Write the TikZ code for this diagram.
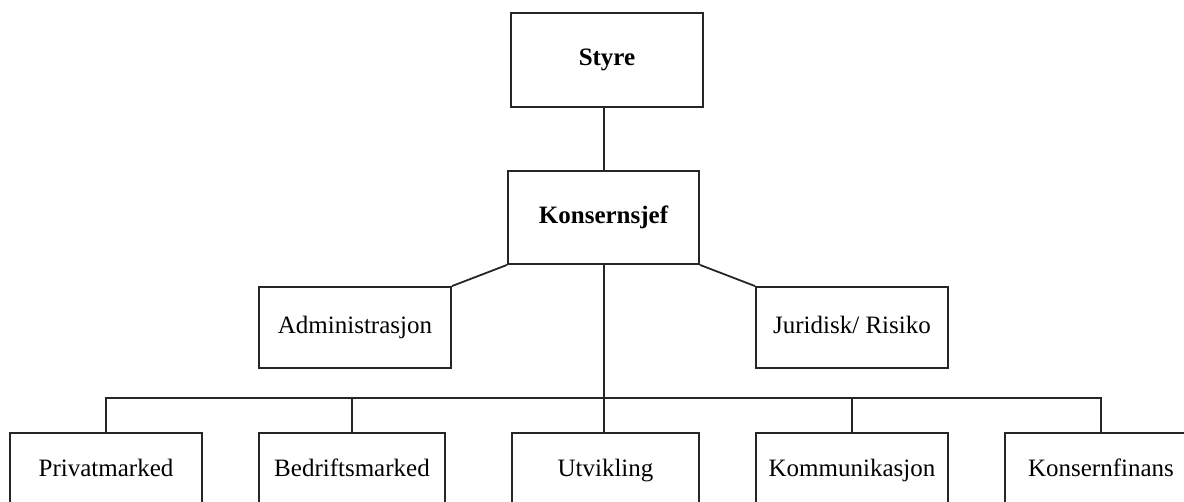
\documentclass[tikz,border=0pt]{standalone}
\usepackage{fontspec}
\setmainfont{Liberation Serif}
\begin{document}
\begin{tikzpicture}[x=0.5pt,y=-0.5pt,
  box/.style={draw=black!85, line width=0.9pt, rectangle, inner sep=0pt, text height=8.5pt, text depth=2.6pt, minimum width=96pt, font=\fontsize{12.5}{15}\selectfont},
  link/.style={draw=black!85, line width=0.9pt}]
\useasboundingbox (0,0) rectangle (1184,502);
\node[box, minimum width=96pt, minimum height=47pt, font=\fontsize{12.5}{15}\selectfont\bfseries] (s) at (607,60) {Styre};
\node[box, minimum width=95.5pt, minimum height=46.5pt, font=\fontsize{12.5}{15}\selectfont\bfseries] (k) at (603.5,217.5) {Konsernsjef};
\node[box, minimum height=40.5pt] (adm) at (355,327.5) {Administrasjon};
\node[box, minimum height=40.5pt] (jur) at (852,327.5) {Juridisk/ Risiko};
\node[box, minimum height=38pt] (priv) at (106,471) {Privatmarked};
\node[box, minimum width=93pt, minimum height=38pt] (bed) at (352,471) {Bedriftsmarked};
\node[box, minimum width=93.5pt, minimum height=38pt] (utv) at (605.5,471) {Utvikling};
\node[box, minimum height=38pt] (kom) at (852,471) {Kommunikasjon};
\node[box, minimum height=38pt] (fin) at (1101,471) {Konsernfinans};
\coordinate (bus) at (604,398);
\path[link] (k.north -| bus) -- (s.south -| bus);
\path[link] (k.south -| bus) -- (utv.north -| bus);
\path[link] (k.south west) -- (adm.north east);
\path[link] (k.south east) -- (jur.north west);
\path[link] (priv.north) |- (bus) -| (fin.north);
\path[link] (bed.north) -- (bed.north |- bus);
\path[link] (kom.north) -- (kom.north |- bus);
\end{tikzpicture}
\end{document}
